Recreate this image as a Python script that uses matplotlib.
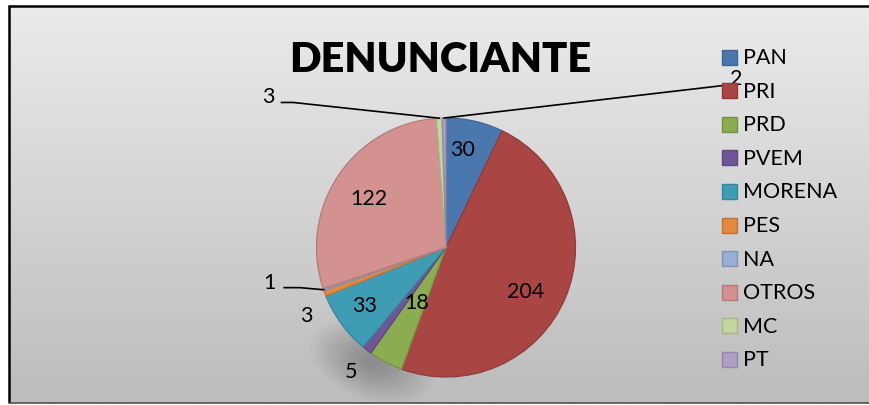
#!/usr/bin/env python3
"""Pie chart: DENUNCIANTE (complaints by party)."""

import numpy as np
import matplotlib
matplotlib.use("Agg")
import matplotlib.pyplot as plt
import matplotlib.colors as mcolors
from matplotlib.patches import Rectangle, Ellipse

# data
parties = ["PAN", "PRI", "PRD", "PVEM", "MORENA", "PES", "NA", "OTROS", "MC", "PT"]
counts = [30, 204, 18, 5, 33, 3, 1, 122, 3, 2]
colors = ["#4a78ae", "#a94543", "#8cac52", "#6f5696", "#3f9cb5",
          "#e2883f", "#97afd6", "#d39190", "#c2d79c", "#ae9fc5"]

# label placement: radius (in pie radii) and angle tweak (deg); None = leader label
label_r = [0.77, 0.70, 0.48, 1.20, 0.77, 1.20, None, 0.71, None, None]
label_dang = [3.5, -5.5, 0, 0, -1, 5, 0, 1, 0, 0]
# leader labels: text position and line start offset, in pie radii
leader_text = {6: (-1.36, -0.27), 8: (-1.37, 1.17), 9: (2.24, 1.31)}
leader_path = {6: [(-1.25, -0.31), (-1.13, -0.31)],
               8: [(-1.27, 1.12), (-1.18, 1.12)],
               9: [(2.22, 1.26)]}

W, H = 870, 406
plt.rcParams["font.family"] = ["Lato", "DejaVu Sans"]

fig = plt.figure(figsize=(W / 100, H / 100), dpi=100)

# one axes over the whole figure: 1 data unit = pie radius in pixels
cx, cy, R = 446, 248.5, 129.5
ax = fig.add_axes([0, 0, 1, 1])
ax.patch.set_alpha(0)


def px(x, y):
    return (x - cx) / R, (cy - y) / R


# background panel with vertical gradient and border
bx0, by0 = px(9, 7)
bx1, by1 = px(W, 404)
grad = np.linspace(0, 1, 256)[:, None]
cmap = mcolors.LinearSegmentedColormap.from_list("g", ["#ebebeb", "#bcbcbc"])
ax.imshow(grad, aspect="auto", cmap=cmap, extent=[bx0, bx1, by1, by0],
          origin="upper", zorder=0)
ax.plot([bx0, bx0, bx1], [by1, by0, by0], color="black", lw=1.8, zorder=6,
        solid_joinstyle="miter", solid_capstyle="butt")
ax.plot([bx0, bx1], [by1, by1], color="#505050", lw=1.2, zorder=6,
        solid_capstyle="butt")

# soft blurred shadow below the bottom-left of the pie
shx, shy = px(372, 362)
for k in range(14):
    s = 1.0 - k / 14
    ax.add_patch(Ellipse((shx, shy), 0.95 * s + 0.05, 0.55 * s + 0.04,
                         angle=-20, color="black", alpha=0.018, lw=0, zorder=1))

edge = [tuple(np.array(mcolors.to_rgb(c)) * 0.85) for c in colors]
wedges, _ = ax.pie(counts, colors=colors, startangle=90, counterclock=False,
                   radius=1.0, center=(0, 0),
                   wedgeprops=dict(linewidth=0.9))
for w, ec in zip(wedges, edge):
    w.set_edgecolor(ec)
    w.set_zorder(2)
ax.set_xlim(-cx / R, (W - cx) / R)
ax.set_ylim(-(H - cy) / R, cy / R)
ax.set_aspect("auto")
ax.axis("off")

for i, w in enumerate(wedges):
    mid = np.deg2rad((w.theta1 + w.theta2) / 2)
    if label_r[i] is not None:
        a = mid + np.deg2rad(label_dang[i])
        ax.text(label_r[i] * np.cos(a), label_r[i] * np.sin(a), str(counts[i]),
                ha="center", va="center", fontsize=15.5, color="black", zorder=5)
    else:
        tx, ty = leader_text[i]
        ax.text(tx, ty, str(counts[i]), ha="center", va="center",
                fontsize=15.5, color="black", zorder=5)
        pts = leader_path[i] + [(np.cos(mid), np.sin(mid))]
        xs, ys = zip(*pts)
        ax.plot(xs, ys, color="black", lw=1.2, zorder=4)

# title
ax.text(*px(440, 60), "DENUNCIANTE", ha="center", va="center",
        fontsize=30, fontweight="heavy", color="black", zorder=5)

# legend
ly0, ldy = 58, 33.6
for i, (name, c) in enumerate(zip(parties, colors)):
    y = ly0 + i * ldy
    sx, sy = px(722, y + 7.5)
    ax.add_patch(Rectangle((sx, sy), 15 / R, 15 / R, facecolor=c,
                           edgecolor=edge[i], linewidth=1.0, zorder=5))
    ax.text(*px(743, y), name, ha="left", va="center",
            fontsize=15.5, color="black", zorder=5)

fig.savefig("out.png", dpi=100)
